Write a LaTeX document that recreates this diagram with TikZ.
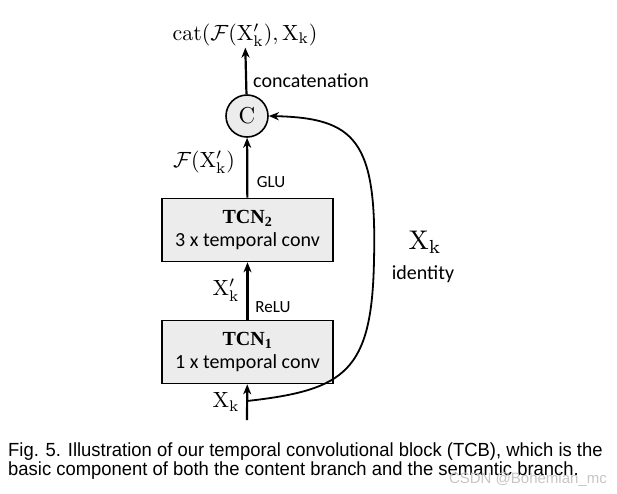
\documentclass[tikz,border=0pt]{standalone}
\usepackage{fontspec}
\usepackage{amsmath,amssymb,graphicx}
\usetikzlibrary{arrows.meta}
\newfontfamily\calibfont{Carlito}
\newfontfamily\timesfont{Liberation Serif}
\newfontfamily\capfont{Liberation Sans}
\newcommand{\bigmath}[2]{\scalebox{#1}{$#2$}}

\begin{document}
\begin{tikzpicture}[x=1pt,y=-1pt,
  tcnbox/.style={draw,fill=gray!15,line width=1.6pt,minimum width=171pt,minimum height=63pt,
    align=center,inner sep=0pt,font=\calibfont\fontsize{20}{23}\selectfont},
  arr/.style={line width=2.2pt,-{Stealth[length=10pt,width=8pt,inset=3pt]}},
  lab/.style={font=\calibfont\fontsize{20}{20}\selectfont},
  smalllab/.style={font=\calibfont\fontsize{17}{17}\selectfont},
  caplab/.style={anchor=base west,inner sep=0pt,font=\capfont\fontsize{19}{19}\selectfont}]
  \useasboundingbox (0,0) rectangle (617,493);
  % blocks
  \node[tcnbox] (tcn1) at (247.5,352) {{\timesfont\bfseries TCN\textsubscript{1}}\\1 x temporal conv};
  \node[tcnbox] (tcn2) at (247.5,230) {{\timesfont\bfseries TCN\textsubscript{2}}\\3 x temporal conv};
  \node[circle,draw,fill=gray!15,line width=1.6pt,minimum size=42pt,inner sep=0pt] (cat) at (247,116)
    {\scalebox{2.3}{C}};
  \node[inner sep=1pt] (out) at (245,35)
    {\bigmath{2.2}{\mathrm{cat}(\mathcal{F}(\mathrm{X}'_{\mathrm{k}}),\mathrm{X}_{\mathrm{k}})}};
  \coordinate (in) at (247,420);
  \coordinate (split) at (247,401);
  % connectors
  \draw[arr] (in) -- (tcn1);
  \draw[arr] (tcn1) -- (tcn2);
  \draw[arr] (tcn2) -- (cat);
  \draw[arr] (cat) -- (out);
  \draw[line width=1.8pt,-{Stealth[length=10pt,width=8pt,inset=3pt]}] (split)
    .. controls (345,390) and (372,372) .. (374,260)
    .. controls (377,140) and (355,118) .. (cat.east);
  % labels
  \node[lab] (lconcat) at (311,81) {concatenation};
  \node (lfx) at (204,162) {\bigmath{2.2}{\mathcal{F}(\mathrm{X}'_{\mathrm{k}})}};
  \node[smalllab] (lglu) at (271,182) {GLU};
  \node (lxp) at (226,290) {\bigmath{2.2}{\mathrm{X}'_{\mathrm{k}}}};
  \node[smalllab] (lrelu) at (273,307) {ReLU};
  \node (lxin) at (226,402) {\bigmath{2.2}{\mathrm{X}_{\mathrm{k}}}};
  \node (lxid) at (425,242) {\bigmath{2.7}{\mathrm{X}_{\mathrm{k}}}};
  \node[lab] (lid) at (423,274) {identity};
  % caption
  \node[caplab] (cap1) at (8,456)
    {\scalebox{0.97}[1]{Fig. 5. Illustration of our temporal convolutional block (TCB), which is the}};
  \node[caplab] (cap2) at (8,475)
    {\scalebox{0.97}[1]{basic component of both the content branch and the semantic branch.}};
  \node[anchor=base east,inner sep=0pt,text=gray!45,font=\capfont\fontsize{15}{15}\selectfont] (wm) at (607,483)
    {CSDN @Bohemian\_mc};
\end{tikzpicture}
\end{document}
